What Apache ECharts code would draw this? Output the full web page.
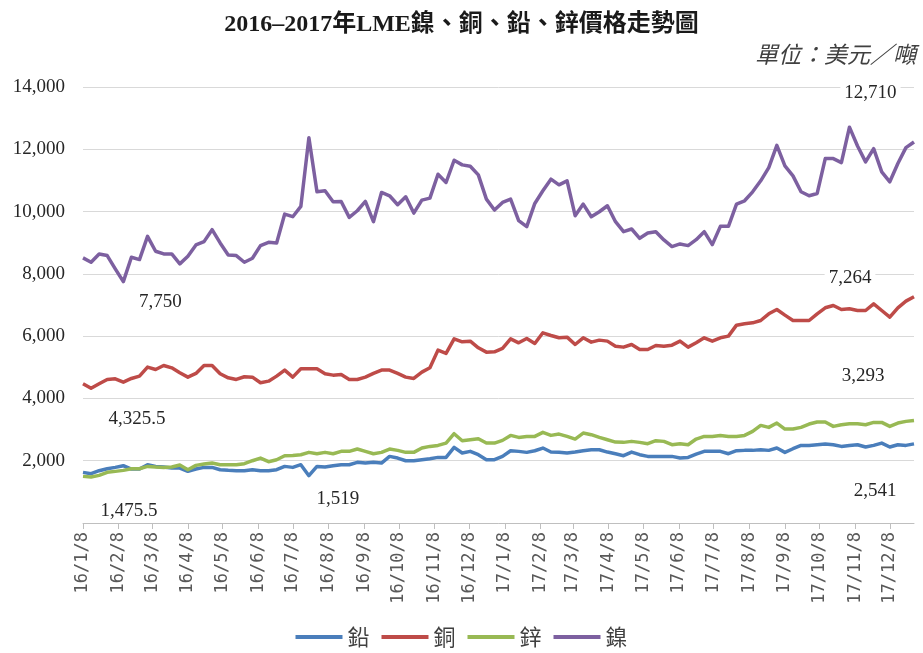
<!DOCTYPE html>
<html>
<head>
<meta charset="utf-8">
<script src="https://cdn.jsdelivr.net/npm/echarts@6/dist/echarts.min.js"></script>
<style>html,body{margin:0;padding:0;background:#fff}#c{width:923px;height:653px}</style>
</head>
<body>
<div id="c"></div>
<script>
// ---- data (weekly, from 2016-01-08) ----
const startDate = [2016, 1, 8];
const tickLabels = ['16/1/8','16/2/8','16/3/8','16/4/8','16/5/8','16/6/8','16/7/8','16/8/8','16/9/8','16/10/8','16/11/8','16/12/8',
  '17/1/8','17/2/8','17/3/8','17/4/8','17/5/8','17/6/8','17/7/8','17/8/8','17/9/8','17/10/8','17/11/8','17/12/8'];
const seriesNames = ['鉛','銅','鋅','鎳'];

const lead = [1626,1583,1679,1743,1786,1840,1733,1733,1872,1818,1797,1765,1765,1658,1733,1786,1786,1711,1690,1679,
  1679,1711,1679,1679,1711,1818,1786,1872,1519,1818,1797,1840,1872,1872,1947,1925,1947,1925,2139,2086,
  2000,2000,2032,2064,2107,2107,2428,2246,2300,2193,2032,2032,2139,2321,2300,2268,2321,2407,2278,2268,
  2246,2278,2321,2353,2353,2278,2225,2161,2278,2193,2139,2139,2139,2139,2086,2107,2214,2300,2300,2300,
  2225,2321,2332,2332,2353,2332,2407,2268,2385,2492,2492,2514,2535,2514,2460,2492,2514,2439,2492,2567,
  2439,2514,2492,2541];

const copper = [4470,4325.5,4470,4609,4630,4523,4641,4716,5005,4930,5058,4983,4823,4684,4802,5058,5058,4791,4662,4609,
  4695,4684,4502,4555,4716,4909,4684,4951,4951,4951,4791,4748,4769,4609,4609,4684,4802,4909,4909,4802,
  4684,4641,4844,4983,5551,5444,5914,5818,5839,5625,5486,5497,5604,5914,5786,5925,5765,6107,6021,5947,
  5968,5732,5947,5807,5872,5840,5679,5647,5732,5572,5572,5700,5679,5711,5840,5647,5786,5947,5840,5947,
  6000,6353,6396,6428,6503,6717,6856,6674,6503,6503,6503,6717,6910,6984,6856,6877,6824,6824,7038,6824,
  6610,6910,7124,7264];

const zinc = [1497,1475.5,1529,1626,1658,1690,1743,1743,1818,1797,1786,1797,1861,1711,1850,1893,1925,1872,1872,1872,
  1904,2000,2086,1968,2032,2161,2171,2193,2268,2225,2268,2225,2300,2300,2375,2300,2225,2268,2375,2332,
  2268,2268,2407,2460,2492,2567,2867,2642,2674,2706,2567,2567,2653,2813,2749,2781,2781,2910,2813,2856,
  2781,2696,2888,2835,2749,2674,2599,2589,2621,2589,2546,2642,2621,2514,2546,2514,2696,2781,2781,2813,
  2781,2781,2813,2942,3134,3070,3209,3017,3017,3070,3177,3241,3241,3102,3156,3188,3188,3156,3231,3231,
  3102,3209,3263,3293];

const nickel = [8512,8373,8640,8587,8160,7750,8533,8459,9205,8725,8640,8640,8320,8565,8928,9035,9419,8992,8608,8587,
  8373,8501,8907,9013,8992,9920,9835,10165,12373,10635,10667,10315,10325,9813,10027,10325,9675,10613,10507,10219,
  10475,9952,10368,10432,11200,10933,11648,11499,11456,11179,10400,10048,10293,10400,9707,9515,10261,10667,11040,10859,
  10987,9867,10240,9835,9995,10187,9675,9355,9440,9141,9312,9355,9088,8875,8960,8907,9099,9355,8939,9525,
  9525,10240,10347,10635,10987,11413,12128,11467,11147,10635,10507,10581,11701,11701,11573,12710,12107,11595,12021,11275,
  10955,11541,12053,12235];

// annotated points
const notes = [
  {s: 'nickel', i: 5,   off: [37, 20]},
  {s: 'nickel', i: 95,  off: [21, -34]},
  {s: 'copper', i: 1,   off: [46, 31]},
  {s: 'copper', i: 103, off: [-64, -19]},
  {s: 'zinc',   i: 1,   off: [38, 34]},
  {s: 'zinc',   i: 103, off: [-51, -44]},
  {s: 'lead',   i: 28,  off: [29, 23]},
  {s: 'lead',   i: 103, off: [-39, 47]}
];

// ---- build (x = days since start date) ----
const DAY = 86400000;
const t0 = Date.UTC(startDate[0], startDate[1] - 1, startDate[2]);
const weekDays = lead.map((_, i) => 7 * i);
const tickDays = tickLabels.map(s => { const p = s.split('/').map(Number); return Math.round((Date.UTC(2000 + p[0], p[1] - 1, p[2]) - t0) / DAY); });
const seriesData = {lead, copper, zinc, nickel};
const colors = {lead: '#4a7ebb', copper: '#be4b48', zinc: '#98b954', nickel: '#7d60a0'};
const keys = ['lead', 'copper', 'zinc', 'nickel'];
const fmt = v => v.toLocaleString('en-US', {maximumFractionDigits: 1});

const chart = echarts.init(document.getElementById('c'), null, {renderer: 'canvas'});
chart.setOption({
  animation: false,
  backgroundColor: '#fff',
  title: [{
    text: '2016–2017年LME鎳、銅、鉛、鋅價格走勢圖',
    left: 'center', top: 8,
    textStyle: {fontFamily: '"Liberation Serif","Noto Sans CJK TC",serif', fontWeight: 'bold', fontSize: 24, color: '#1a1a1a'}
  }, {
    text: '單位：美元／噸',
    right: 2, top: 38,
    textStyle: {fontFamily: '"Noto Sans CJK TC",sans-serif', fontStyle: 'italic', fontWeight: 'normal', fontSize: 23, color: '#404040'}
  }],
  legend: {
    bottom: 0, left: 'center',
    icon: 'rect', itemWidth: 47, itemHeight: 4, itemGap: 12,
    textStyle: {fontFamily: '"Noto Sans CJK TC",sans-serif', fontSize: 22, color: '#404040'},
    data: seriesNames
  },
  grid: {left: 83, right: 9, top: 87, bottom: 130, containLabel: false},
  xAxis: {
    type: 'value',
    min: 0, max: weekDays[weekDays.length - 1],
    axisLine: {lineStyle: {color: '#bfbfbf', width: 1}},
    axisTick: {show: true, customValues: tickDays, length: 6, lineStyle: {color: '#bfbfbf'}},
    axisLabel: {
      customValues: tickDays, rotate: 90, margin: 9,
      fontFamily: '"DejaVu Sans Mono",monospace', fontSize: 17, color: '#595959',
      formatter: v => { const k = tickDays.indexOf(Math.round(v)); return k >= 0 ? tickLabels[k] : ''; }
    },
    splitLine: {show: false}
  },
  yAxis: {
    type: 'value', min: 0, max: 14000, interval: 2000,
    axisLine: {show: false}, axisTick: {show: false},
    axisLabel: {showMinLabel: false, margin: 18, fontFamily: '"Liberation Serif",serif', fontSize: 19, color: '#262626', formatter: v => fmt(v)},
    splitLine: {lineStyle: {color: '#d9d9d9', width: 1}}
  },
  series: keys.map((k, si) => ({
    name: seriesNames[si],
    type: 'line',
    data: seriesData[k].map((v, i) => [weekDays[i], v]),
    showSymbol: false, symbol: 'none',
    lineStyle: {color: colors[k], width: 3.5, join: 'round'},
    itemStyle: {color: colors[k]},
    markPoint: {
      symbol: 'circle', symbolSize: 1, itemStyle: {color: 'rgba(0,0,0,0)'},
      label: {show: true, fontFamily: '"Liberation Serif",serif', fontSize: 19, color: '#262626', backgroundColor: '#fff', padding: [0, 4]},
      data: notes.filter(n => n.s === k).map(n => ({
        coord: [weekDays[n.i], seriesData[k][n.i]],
        value: seriesData[k][n.i],
        label: {offset: n.off, formatter: () => fmt(seriesData[k][n.i])}
      }))
    }
  }))
});
</script>
</body>
</html>
